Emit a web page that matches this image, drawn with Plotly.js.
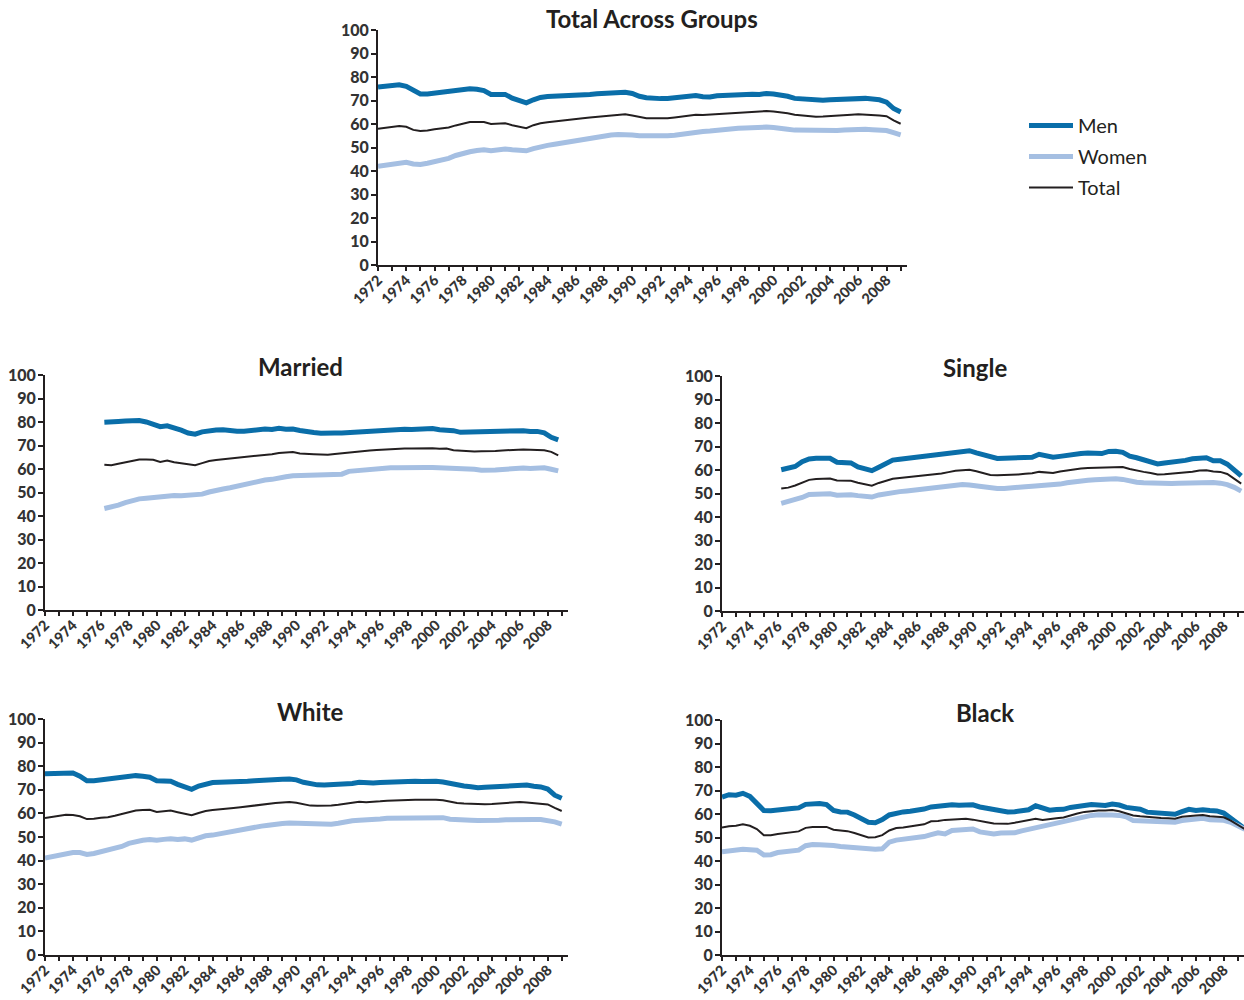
<!DOCTYPE html>
<html>
<head>
<meta charset="utf-8">
<script src="https://cdn.plot.ly/plotly-3.0.1.min.js"></script>
<style>html,body{margin:0;padding:0;background:#fff;}#chart{width:1244px;height:1000px;}</style>
</head>
<body>
<div id="chart"></div>
<script>
// ---------- data (semiannual readings, percent) ----------
const panelTitles = ["Total Across Groups", "Married", "Single", "White", "Black"];
const seriesNames = ["Men", "Women", "Total"];
const yearTicks = [1972,1973,1974,1975,1976,1977,1978,1979,1980,1981,1982,1983,1984,1985,1986,1987,1988,1989,1990,
  1991,1992,1993,1994,1995,1996,1997,1998,1999,2000,2001,2002,2003,2004,2005,2006,2007,2008,2009];
const yearLabels = ["1972","","1974","","1976","","1978","","1980","","1982","","1984","","1986","","1988","","1990",
  "","1992","","1994","","1996","","1998","","2000","","2002","","2004","","2006","","2008",""];

// half-year time points
function halfYears(start, end) { const a = []; for (let t = start; t <= end + 1e-9; t += 0.5) a.push(t); return a; }
const tFull = halfYears(1972, 2009);        // Total Across Groups, White
const tMarried = halfYears(1976.25, 2008.75);
const tSingle = halfYears(1976.25, 2009.25);
const tBlack = halfYears(1972, 2009.5);

// Total Across Groups
const totalMen = [75.7,76.0,76.3,76.7,76.0,74.5,72.8,72.8,73.2,73.5, 73.8,74.6,74.9,75.0,74.8,74.2,72.6,72.7,72.6,71.0,
  70.2,69.0,70.3,71.3,71.7,71.8,71.8,71.9,71.9,72.2, 72.6,72.9,73.1,73.3,73.4,73.5,73.0,71.8,71.2,70.9,
  70.8,70.9,71.1,71.3,71.6,72.1,71.6,71.5,72.0,72.2, 72.4,72.6,72.6,72.7,72.6,73.0,72.8,72.4,71.8,70.9,
  70.7,70.1,69.9,70.1,70.3,70.5,70.7,70.9,71.1,70.9, 70.6,70.3,69.3,66.6,65.1];
const totalWomen = [42.0,42.5,43.2,43.6,43.7,43.0,42.8,43.3,44.0,44.6, 45.4,46.6,47.5,48.2,48.7,49.0,48.6,49.0,49.4,49.0,
  48.9,48.6,49.5,50.4,50.9,51.4,51.9,52.4,52.9,53.5, 54.1,54.5,54.9,55.3,55.5,55.6,55.3,55.0,54.9,54.9,
  55.0,55.0,55.2,55.7,56.3,56.6,56.8,57.0,57.4,57.8, 58.1,58.2,58.3,58.5,58.6,58.7,58.5,58.4,57.8,57.4,
  57.3,57.2,57.1,57.0,57.0,57.2,57.4,57.7,58.0,57.8, 57.6,57.5,57.2,56.3,55.4];
const totalAll = [58.0,58.3,58.7,59.1,58.8,57.5,57.0,57.2,57.8,58.0, 58.5,59.4,60.2,60.8,60.9,60.8,60.0,60.0,60.3,59.5,
  58.8,58.2,59.5,60.3,60.7,61.0,61.2,61.6,62.0,62.4, 62.8,63.1,63.4,63.7,64.0,64.1,63.6,62.9,62.5,62.4,
  62.4,62.5,62.8,63.1,63.6,63.9,63.8,64.0,64.3,64.6, 64.8,65.0,65.1,65.2,65.3,65.5,65.3,65.1,64.6,63.9,
  63.6,63.3,63.1,63.2,63.3,63.5,63.7,63.9,64.1,64.0, 63.8,63.6,63.3,61.5,60.1];

// Married
const marriedMen = [79.9,79.8,80.2,80.4,80.4,80.6,80.0,79.0,78.0,78.4, 77.6,76.5,75.3,74.8,75.8,76.3,76.6,76.7,76.3,76.1,
  76.1,76.5,76.7,77.0,76.8,77.3,76.9,77.0,76.4,75.7, 75.5,75.2,75.0,75.3,75.3,75.5,75.9,76.0,76.0,76.5,
  76.3,76.7,76.8,76.9,76.8,77.0,76.9,77.2,76.7,76.6, 76.3,75.6,75.7,75.4,75.4,75.5,75.6,75.7,76.2,76.2,
  76.3,76.0,76.0,75.4,73.5,72.4];
const marriedWomen = [43.2,43.8,44.6,45.7,46.6,47.3,47.6,48.0,48.0,48.6, 48.7,48.6,48.7,48.7,49.3,50.2,51.0,51.5,52.0,52.7,
  53.4,54.1,54.8,55.3,55.6,56.4,56.7,57.1,57.2,57.0, 57.1,57.4,57.5,57.6,57.8,59.0,59.3,59.6,59.8,60.1,
  60.3,60.5,60.5,60.4,60.4,60.5,60.6,60.6,60.5,60.6, 60.0,59.9,59.8,59.9,59.5,59.4,59.6,59.8,60.1,60.2,
  60.4,60.2,60.3,60.5,59.9,59.2];
const marriedAll = [61.8,61.6,62.2,62.8,63.5,64.0,64.0,63.9,63.0,63.6, 62.9,62.5,61.8,61.6,62.5,63.4,63.8,64.1,64.3,64.6,
  64.9,65.4,65.8,66.0,66.3,66.8,66.9,67.2,66.6,66.3, 66.3,66.2,66.1,66.4,66.7,67.3,67.6,67.8,67.9,68.1,
  68.3,68.6,68.7,68.7,68.7,68.8,68.9,68.8,68.6,68.7, 68.0,67.8,67.9,67.5,67.6,67.5,67.7,67.9,68.1,68.1,
  68.3,68.2,68.1,68.0,67.3,65.8];

// Single
const singleMen = [60.1,60.6,61.5,63.5,64.7,65.0,65.2,65.0,63.3,63.2, 63.0,61.3,60.5,59.7,61.2,62.8,64.2,64.6,65.0,65.3,
  65.5,65.9,66.2,66.6,67.4,67.8,68.1,68.2,67.3,66.5, 65.4,64.9,65.0,65.0,65.2,65.3,65.4,66.7,65.9,65.4,
  65.8,66.3,66.6,67.0,67.2,67.0,67.0,67.9,68.0,67.5, 65.9,65.2,64.5,63.6,62.6,63.0,63.3,63.5,64.1,64.8,
  65.0,65.2,63.9,63.9,62.5,59.8,57.5];
const singleWomen = [45.8,46.5,47.4,48.3,49.6,49.8,49.8,49.9,49.3,49.6, 49.5,49.1,48.9,48.5,49.4,50.0,50.4,50.8,51.1,51.4,
  51.8,52.0,52.4,52.9,53.3,53.6,53.8,53.6,53.1,52.6, 52.3,52.1,52.1,52.2,52.6,52.9,53.1,53.3,53.3,53.4,
  54.0,54.6,55.1,55.4,55.6,55.9,56.1,56.2,56.3,56.0, 55.3,54.8,54.6,54.4,54.2,54.3,54.3,54.4,54.5,54.8,
  55.0,54.8,54.7,54.4,53.8,52.6,51.0];
const singleAll = [52.1,52.5,53.4,54.6,55.8,56.2,56.4,56.4,55.5,55.5, 55.4,54.6,54.0,53.3,54.5,55.4,56.3,56.6,56.9,57.2,
  57.5,57.8,58.1,58.5,59.1,59.7,59.9,60.1,59.5,58.6, 57.9,57.8,57.9,57.7,58.1,58.4,58.6,59.2,58.9,58.7,
  59.4,59.9,60.3,60.6,60.9,61.0,61.1,61.4,61.5,61.3, 60.4,59.7,59.2,58.7,58.1,58.2,58.4,58.6,59.0,59.3,
  59.8,59.9,59.4,59.2,58.3,56.3,54.2];

// White
const whiteMen = [76.8,76.9,77.1,77.3,77.1,75.8,73.8,73.8,74.2,74.1, 74.6,75.4,75.8,76.0,75.7,75.3,73.8,73.9,73.6,72.3,
  71.4,70.2,71.6,72.6,73.1,73.2,73.2,73.2,73.3,73.6, 73.8,74.1,74.2,74.4,74.5,74.6,74.2,73.2,72.5,72.1,
  72.0,72.1,72.3,72.4,72.7,73.2,72.8,72.9,73.1,73.3, 73.4,73.3,73.4,73.6,73.5,73.8,73.6,73.3,72.7,71.8,
  71.6,71.3,70.9,71.1,71.3,71.5,71.7,71.8,72.2,72.0, 71.5,71.2,70.3,67.7,66.4];
const whiteWomen = [41.1,41.7,42.5,43.1,43.4,43.4,42.6,43.0,43.8,44.4, 45.1,46.0,47.3,48.1,48.6,48.9,48.6,49.0,49.3,48.9,
  49.2,48.7,49.6,50.5,50.8,51.4,51.7,52.3,52.9,53.5, 54.2,54.6,55.0,55.5,55.7,55.9,55.8,55.5,55.3,55.3,
  55.3,55.4,55.8,56.5,56.9,57.1,57.1,57.3,57.6,57.9, 58.0,58.1,58.2,58.3,58.4,58.5,58.3,58.2,57.5,57.2,
  57.1,57.1,57.0,56.9,57.0,57.1,57.3,57.4,57.7,57.5, 57.4,57.4,57.1,56.4,55.5];
const whiteAll = [58.0,58.4,59.0,59.4,59.3,58.8,57.6,57.7,58.2,58.4, 59.0,59.8,60.6,61.2,61.4,61.5,60.6,60.9,61.2,60.5,
  59.9,59.2,60.2,61.0,61.4,61.8,62.0,62.3,62.6,63.0, 63.4,63.7,64.0,64.4,64.6,64.8,64.5,63.8,63.3,63.2,
  63.2,63.4,63.7,64.0,64.4,64.9,64.7,64.8,65.1,65.4, 65.6,65.7,65.7,65.8,65.8,66.1,65.8,65.6,64.9,64.4,
  64.2,64.0,63.8,63.9,64.0,64.2,64.4,64.5,64.8,64.6, 64.3,64.2,63.8,62.3,61.0];

// Black
const blackMen = [67.2,68.2,68.0,68.8,67.5,64.8,61.5,61.4,61.5,62.0, 62.3,62.6,64.1,64.3,64.5,64.0,61.5,60.9,60.8,59.6,
  58.0,56.5,56.3,57.6,59.6,60.5,60.9,61.2,61.5,62.1, 63.0,63.4,63.6,63.9,63.7,63.8,63.9,63.0,62.4,61.8,
  61.0,60.9,61.0,61.2,61.8,63.5,62.3,61.6,61.9,62.0, 62.8,63.2,63.7,64.0,63.8,63.6,64.2,63.8,62.8,62.6,
  62.0,60.8,60.6,60.8,60.3,59.9,61.0,62.0,61.5,61.8, 61.5,61.3,60.4,58.3,55.8,53.8];
const blackWomen = [43.9,44.3,44.6,45.0,44.8,44.6,42.6,42.7,43.6,43.9, 44.0,44.6,46.5,47.0,46.9,47.0,46.6,46.2,46.0,45.5,
  45.1,44.9,45.0,45.2,48.0,48.9,49.2,49.5,49.8,50.4, 51.2,52.0,51.5,53.0,53.2,53.3,53.6,52.4,52.1,51.5,
  51.9,51.7,52.0,52.8,53.5,54.0,54.5,55.2,55.8,56.5, 57.3,58.0,58.8,59.4,59.7,59.8,59.6,59.4,58.8,57.2,
  57.0,57.1,57.0,56.8,56.6,56.5,57.2,57.5,57.8,58.2, 57.6,57.5,57.3,56.5,55.0,53.5];
const blackAll = [54.2,54.8,55.0,55.6,55.0,53.6,51.0,51.0,51.5,51.9, 52.0,52.6,54.1,54.5,54.5,54.5,53.3,52.9,52.7,51.9,
  50.8,50.0,50.1,51.0,53.0,54.0,54.3,54.8,55.0,55.6, 56.9,57.0,57.5,57.7,57.8,58.0,57.6,56.9,56.5,56.0,
  55.8,55.8,56.3,56.8,57.4,58.0,57.5,58.0,58.2,58.5, 59.5,60.2,60.9,61.3,61.5,61.5,61.7,61.2,60.2,59.4,
  59.0,58.7,58.5,58.3,58.2,58.0,58.8,59.2,59.4,59.6, 59.0,58.8,58.6,57.2,55.5,53.6];

// ---------- styling ----------
const colors = {Men: "#0a6ea9", Women: "#a5bfe2", Total: "#231f20"};
const widths = {Men: 5, Women: 5, Total: 2};
const fontFam = "Lato, 'Open Sans', sans-serif";

const panels = [
  {t: tFull,    men: totalMen,   women: totalWomen,   all: totalAll,   xa: "x",  ya: "y",  dx: [378, 907], dy: [30, 265]},
  {t: tMarried, men: marriedMen, women: marriedWomen, all: marriedAll, xa: "x2", ya: "y2", dx: [45, 568],  dy: [375, 610]},
  {t: tSingle,  men: singleMen,  women: singleWomen,  all: singleAll,  xa: "x3", ya: "y3", dx: [722, 1244], dy: [376, 611]},
  {t: tFull,    men: whiteMen,   women: whiteWomen,   all: whiteAll,   xa: "x4", ya: "y4", dx: [45, 568],  dy: [719, 955]},
  {t: tBlack,   men: blackMen,   women: blackWomen,   all: blackAll,   xa: "x5", ya: "y5", dx: [722, 1244], dy: [720, 955]}
];
const W = 1244, H = 1000;

const traces = [];
panels.forEach((p, i) => {
  const ser = [["Men", p.men], ["Women", p.women], ["Total", p.all]];
  ser.forEach(([name, vals]) => {
    traces.push({
      type: "scatter", mode: "lines", x: p.t, y: vals, name: name, legendgroup: name,
      xaxis: p.xa, yaxis: p.ya, showlegend: i === 0, legendrank: seriesNames.indexOf(name),
      line: {color: colors[name], width: widths[name], shape: "linear"},
      hoverinfo: "skip"
    });
  });
});

const layout = {
  width: W, height: H, autosize: false,
  margin: {l: 0, r: 0, t: 0, b: 0},
  paper_bgcolor: "#fff", plot_bgcolor: "#fff",
  font: {family: fontFam, color: "#231f20"},
  showlegend: true,
  legend: {x: 1024 / W, y: 1 - 106 / H, xanchor: "left", yanchor: "top", itemwidth: 44,
    font: {size: 20, family: fontFam, color: "#231f20"}, bgcolor: "rgba(0,0,0,0)", tracegroupgap: 2},
  annotations: []
};

panels.forEach((p, i) => {
  const sfx = i === 0 ? "" : String(i + 1);
  layout["xaxis" + sfx] = {
    domain: [p.dx[0] / W, p.dx[1] / W], anchor: "y" + sfx,
    range: [1972, 2009.45], tickmode: "array", tickvals: yearTicks, ticktext: yearLabels,
    tickangle: -45, ticks: "outside", ticklen: 4, tickwidth: 2, tickcolor: "#231f20", ticklabelstandoff: -5,
    showline: true, linecolor: "#231f20", linewidth: 2, showgrid: false, zeroline: false,
    tickfont: {size: 14.5, family: fontFam, weight: 900, color: "#333333"}, fixedrange: true
  };
  layout["yaxis" + sfx] = {
    domain: [1 - p.dy[1] / H, 1 - p.dy[0] / H], anchor: "x" + sfx,
    range: [0, 100], dtick: 10, tick0: 0, ticks: "outside", ticklen: 5, tickwidth: 2, tickcolor: "#231f20",
    ticklabelstandoff: -1,
    showline: true, linecolor: "#231f20", linewidth: 2, showgrid: false, zeroline: false,
    tickfont: {size: 16, family: fontFam, weight: 900, color: "#333333"}, fixedrange: true
  };
});

const titlePos = [[652, 18], [300, 366], [975, 367], [310, 711], [985, 712]];
panelTitles.forEach((txt, i) => {
  layout.annotations.push({
    text: txt, xref: "paper", yref: "paper", x: titlePos[i][0] / W, y: 1 - titlePos[i][1] / H,
    xanchor: "center", yanchor: "middle", showarrow: false,
    font: {size: 24, family: fontFam, weight: "bold", color: "#231f20"}
  });
});

Plotly.newPlot("chart", traces, layout, {staticPlot: true, displayModeBar: false});
</script>
</body>
</html>
